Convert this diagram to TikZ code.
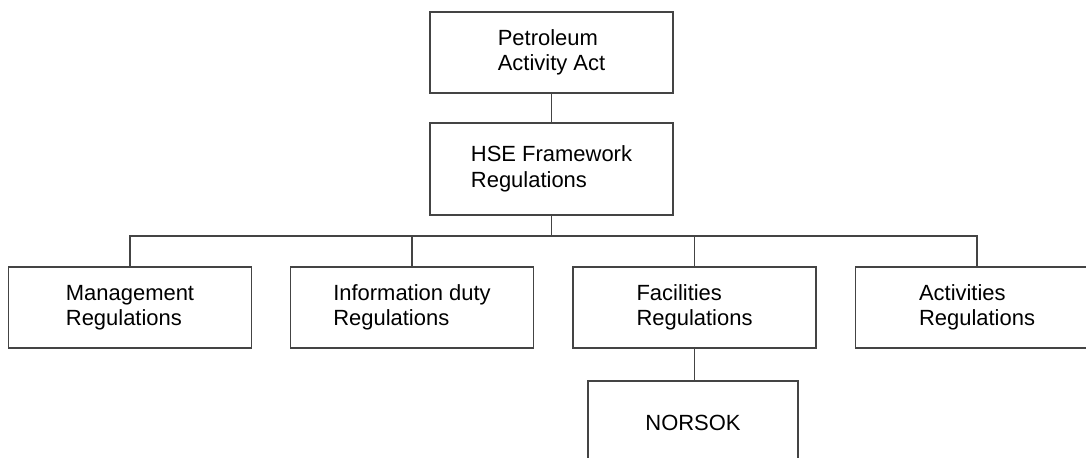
\documentclass[tikz,border=0pt]{standalone}
\usepackage{fontspec}
\setmainfont{Liberation Sans}
\usepackage{tikz}
\usetikzlibrary{positioning, calc}
\definecolor{rline}{HTML}{444444}
\tikzset{
  regbox/.style={draw=rline, line width=1pt, fill=white, align=left,
                 minimum width=4.86cm, minimum height=1.62cm,
                 font=\fontsize{12.5}{14.5}\selectfont, inner sep=2pt},
  link/.style={draw=rline, line width=1pt},
}
\begin{document}
\begin{tikzpicture}

  \useasboundingbox (0,0) rectangle (21.72,9.16);

  %% Top of the hierarchy
  \node[regbox] (act) at (11.03,8.11) {Petroleum\\Activity Act};
  \node[regbox, minimum height=1.84cm] (hse) at (11.03,5.78) {HSE Framework\\Regulations};
  \draw[link] (act) -- (hse);

  %% Branch point
  \coordinate (bus) at (11.03,4.44);
  \draw[link] (hse) -- (bus);

  %% Regulations row
  \node[regbox] (mgmt) at (2.60,3.01) {Management\\Regulations};
  \node[regbox] (info) at (8.24,3.01) {Information duty\\Regulations};
  \node[regbox] (fac)  at (13.89,3.01) {Facilities\\Regulations};
  \node[regbox] (activ) at (19.54,3.01) {Activities\\Regulations};
  \foreach \n in {mgmt, info, fac, activ}{
    \draw[link] (\n.north) |- (bus);
  }

  %% Standards below facilities
  \node[regbox, minimum width=4.2cm, minimum height=1.68cm] (norsok) at (13.86,0.70) {NORSOK};
  \draw[link] (fac) -- (fac |- norsok.north);

\end{tikzpicture}
\end{document}
